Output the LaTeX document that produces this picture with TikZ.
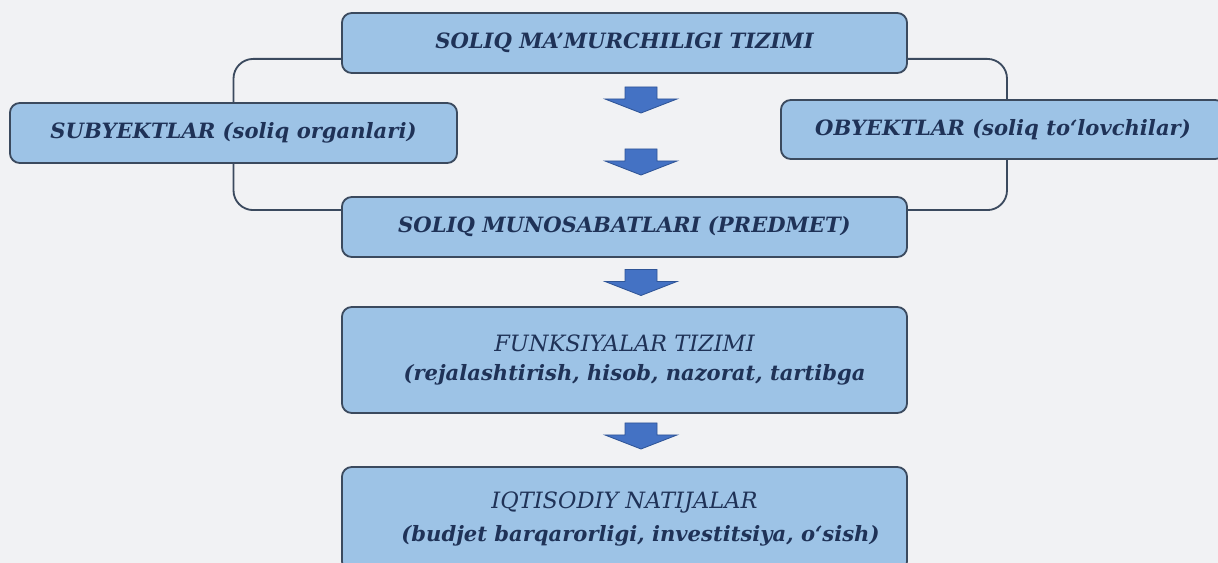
\documentclass[tikz,border=0pt]{standalone}
\usepackage{fontspec}
\setmainfont{DejaVu Serif}
\usepackage{tikz}
\usetikzlibrary{positioning}
\usetikzlibrary{backgrounds}

\definecolor{boxfill}{HTML}{9DC3E6}
\definecolor{boxline}{HTML}{3B4A5E}
\definecolor{textnavy}{HTML}{1F3257}
\definecolor{arrfill}{HTML}{4472C4}
\definecolor{arrline}{HTML}{2F5597}
\definecolor{bgcol}{HTML}{F1F2F4}

\newcommand{\hdtxt}[1]{{\fontsize{15}{18}\selectfont\bfseries\itshape #1}}
\newcommand{\lntxt}[1]{{\fontsize{16}{18}\selectfont\itshape #1}}

\begin{document}
\begin{tikzpicture}[x=0.025cm, y=-0.025cm,
  box/.style={draw=boxline, line width=1.3pt, fill=boxfill, rounded corners=7pt,
    text=textnavy, align=center, inner sep=0pt},
  wide/.style={box, minimum width=14.125cm},
  downarr/.pic={\filldraw[fill=arrfill, draw=arrline, line width=0.6pt]
    (-16,-13) -- (16,-13) -- (16,-1) -- (36,-1) -- (0,13) -- (-36,-1) -- (-16,-1) -- cycle;},
  loopline/.style={draw=boxline, line width=1.3pt, rounded corners=14pt}]
\useasboundingbox (0,0) rectangle (1218,563);

\node(tizim)[wide, minimum height=1.5cm] at (624.5,43) {\hdtxt{SOLIQ MA’MURCHILIGI TIZIMI}};
\node(sub)[box, minimum width=11.175cm, minimum height=1.5cm] at (233.5,133) {\hdtxt{SUBYEKTLAR (soliq organlari)}};
\node(ob)[box, minimum width=11.1cm, minimum height=1.475cm] at (1003,129.5) {\hdtxt{OBYEKTLAR (soliq to‘lovchilar)}};
\node(pred)[wide, minimum height=1.5cm] at (624.5,227) {\hdtxt{SOLIQ MUNOSABATLARI (PREDMET)}};
\node(funk)[wide, minimum height=2.65cm] at (624.5,360) {\lntxt{FUNKSIYALAR TIZIMI}\\[8pt] \hdtxt{\hspace*{0.5cm}(rejalashtirish, hisob, nazorat, tartibga}};
\node(nat)[wide, minimum height=2.6cm] at (624.5,519) {\lntxt{IQTISODIY NATIJALAR}\\[8pt] \hdtxt{\hspace*{0.8cm}(budjet barqarorligi, investitsiya, o‘sish)}};

\pic at (641,100) {downarr};
\pic at (641,162) {downarr};
\pic at (641,282.5) {downarr};
\pic at (641,436) {downarr};

\begin{scope}[on background layer]
\fill[bgcol] (0,0) rectangle (1218,563);
\draw[loopline] ([yshift=0.375cm]tizim.south west) -| (sub.north);
\draw[loopline] (sub.south) |- ([yshift=-0.35cm]pred.north west);
\draw[loopline] ([yshift=0.375cm]tizim.south east) -| ([xshift=0.1cm]ob.north);
\draw[loopline] ([xshift=0.1cm]ob.south) |- ([yshift=-0.35cm]pred.north east);
\end{scope}
\end{tikzpicture}
\end{document}
